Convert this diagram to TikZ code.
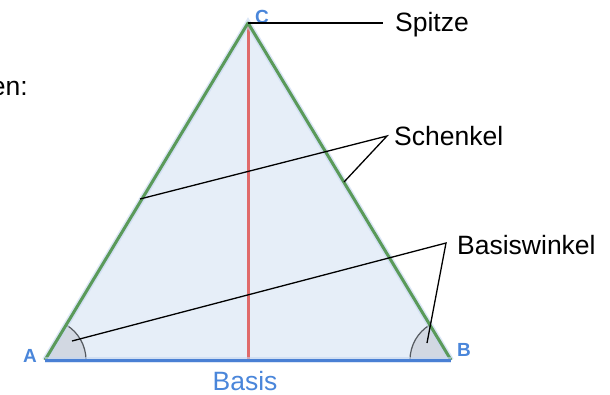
\documentclass[tikz,border=0pt]{standalone}
\usepackage{fontspec}
\setmainfont{Liberation Sans}
\usetikzlibrary{calc}
\definecolor{trifill}{HTML}{E6EEF8}
\definecolor{sidegreen}{HTML}{5A9A5A}
\definecolor{baseblue}{HTML}{4A80D4}
\definecolor{altred}{HTML}{E06A6A}
\definecolor{anglefill}{HTML}{D2D8E2}
\definecolor{anglearc}{HTML}{555A60}
\definecolor{labelblue}{HTML}{4A86DA}
\definecolor{halo}{HTML}{C4D6F0}
\tikzset{
  lbl/.style={inner sep=0pt, font=\fontsize{26.5}{30}\selectfont, text=black},
  vlbl/.style={inner sep=0pt, font=\fontsize{19}{22}\selectfont\bfseries, text=labelblue},
  leader/.style={draw=black, line width=1.3pt},
}
\begin{document}
\begin{tikzpicture}[x=1pt,y=-1pt]
\useasboundingbox (0,0) rectangle (610,394);
\coordinate (A) at (45,360);
\coordinate (B) at (451,360);
\coordinate (C) at (248,23);
\coordinate (H) at (248,360);
% triangle
\fill[trifill] (A) -- (B) -- (C) -- cycle;
% angles
\fill[anglefill] (A) -- ++(41,0) arc[start angle=0, end angle=-58.9, radius=41] -- cycle;
\draw[anglearc, line width=1.2pt] ($(A)+(41,0)$) arc[start angle=0, end angle=-58.9, radius=41];
\fill[anglefill] (B) -- ++(-41,0) arc[start angle=180, end angle=238.9, radius=41] -- cycle;
\draw[anglearc, line width=1.2pt] ($(B)+(-41,0)$) arc[start angle=180, end angle=238.9, radius=41];
% altitude
\draw[altred, line width=3pt] (C) -- (H);
% sides with halo
\draw[halo, line width=6pt, opacity=0.6] (A) -- (C) -- (B);
\draw[sidegreen, line width=3pt, line join=round] (A) -- (C) -- (B);
\draw[halo, line width=6pt, opacity=0.6] (A) -- (B);
\draw[baseblue, line width=3pt] (A) -- (B);
% vertex labels
\node[vlbl] (lA) at (30,356) {A};
\node[vlbl] (lB) at (464,350) {B};
\node[vlbl] (lC) at (262,17) {C};
\node[lbl, text=labelblue, anchor=base] (lBasis) at (245,390) {Basis};
% text labels
\node[lbl, anchor=base east] (len) at (28,95) {en:};
\node[lbl, anchor=base west] (lSpitze) at (395,31) {Spitze};
\node[lbl, anchor=base west] (lSchenkel) at (394,145) {Schenkel};
\node[lbl, anchor=base west] (lBasiswinkel) at (457,254) {Basiswinkel};
% leader junctions and ends
\coordinate (jSp) at (383,23);
\coordinate (jSch) at (387,136);
\coordinate (eSch1) at (140,199);
\coordinate (eSch2) at (344,182);
\coordinate (jBw) at (446,243);
\coordinate (eBw1) at (72,341);
\coordinate (eBw2) at (427,343);
\draw[leader] (C) -- (jSp);
\draw[leader] (eSch1) -- (jSch) -- (eSch2);
\draw[leader] (eBw1) -- (jBw) -- (eBw2);
\end{tikzpicture}
\end{document}
